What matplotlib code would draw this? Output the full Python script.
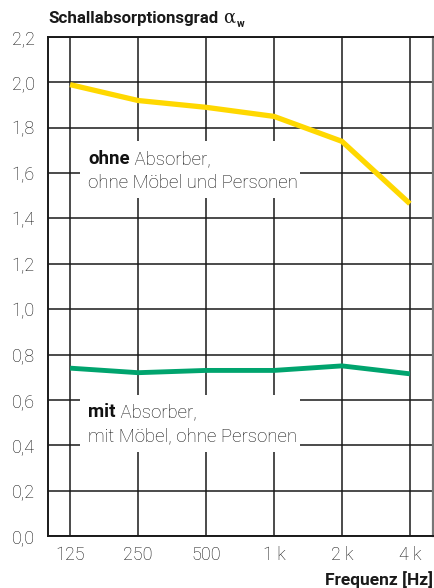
import matplotlib
matplotlib.use("Agg")
import matplotlib.pyplot as plt
from matplotlib.patches import Rectangle

plt.rcParams['font.family'] = ['Roboto', 'DejaVu Sans']

freq_labels = ["125", "250", "500", "1 k", "2 k", "4 k"]
ohne_values = [1.99, 1.92, 1.89, 1.85, 1.74, 1.465]
mit_values = [0.74, 0.72, 0.73, 0.73, 0.75, 0.715]
y_ticks = [0.0, 0.2, 0.4, 0.6, 0.8, 1.0, 1.2, 1.4, 1.6, 1.8, 2.0, 2.2]
y_labels = [f"{v:.1f}".replace(".", ",") for v in y_ticks]

W, H = 435, 588
fig = plt.figure(figsize=(W / 100, H / 100), dpi=100)
ax = fig.add_axes([48 / W, 1 - 536 / H, 385 / W, 499 / H])

x = list(range(len(freq_labels)))
grid_c = "#1a1a1a"
txt_c = "#111111"
ax.set_xlim(-0.325, len(x) - 1 + 0.34)
ax.set_ylim(0, 2.2)
ax.set_xticks(x)
ax.set_xticklabels(freq_labels)
ax.set_yticks(y_ticks)
ax.set_yticklabels(y_labels)
ax.tick_params(length=0, labelsize=13, colors=txt_c)
ax.tick_params(axis='y', pad=9.5)
ax.tick_params(axis='x', pad=7)
for lab in ax.get_xticklabels() + ax.get_yticklabels():
    lab.set_fontweight('light')
ax.grid(True, color=grid_c, linewidth=1.1, zorder=1)
ax.set_axisbelow(True)
for side, sp in ax.spines.items():
    sp.set_color(grid_c if side != 'right' else '#777777')
    sp.set_linewidth(1.4 if side != 'right' else 1.6)

# white label boxes hiding the grid
for (x0, x1, y0, y1) in [(0.0831, 0.6545, 0.677, 0.792), (0.0831, 0.6545, 0.168, 0.2826)]:
    ax.add_patch(Rectangle((x0, y0), x1 - x0, y1 - y0, transform=ax.transAxes,
                           facecolor='white', edgecolor='none', zorder=2))

ax.plot(x, ohne_values, color="#FFD800", linewidth=3.8, zorder=3, solid_capstyle='butt')
ax.plot(x, mit_values, color="#00A46E", linewidth=3.5, zorder=3, solid_capstyle='butt')

fs = 13.4
renderer = fig.canvas.get_renderer()

def right_end_fig(t):
    bb = t.get_window_extent(renderer=renderer)
    return bb.x1 / (W)

def two_part(xa, ya, bold, rest):
    t = ax.text(xa, ya, bold, transform=ax.transAxes, fontsize=fs, fontweight='bold',
                color=txt_c, va='baseline', ha='left', zorder=4)
    bb = t.get_window_extent(renderer=renderer)
    xe = ax.transAxes.inverted().transform((bb.x1, bb.y0))[0]
    ax.text(xe, ya, rest, transform=ax.transAxes, fontsize=fs, fontweight='light',
            color=txt_c, va='baseline', ha='left', zorder=4)

def axy(py):
    return (536 - py) / 499

xa = (88 - 48) / 385
two_part(xa, axy(164), "ohne", " Absorber,")
ax.text(xa, axy(188), "ohne Möbel und Personen", transform=ax.transAxes, fontsize=fs,
        fontweight='light', color=txt_c, va='baseline', ha='left', zorder=4)
two_part(xa, axy(417), "mit", " Absorber,")
ax.text(xa, axy(441), "mit Möbel, ohne Personen", transform=ax.transAxes, fontsize=fs,
        fontweight='light', color=txt_c, va='baseline', ha='left', zorder=4)

# title in pieces
tc = "#1a1a1a"
t1 = fig.text(48 / W, 1 - 23 / H, "Schallabsorptionsgrad", fontsize=12.2,
              fontweight='bold', color=tc, ha='left', va='baseline')
xe = right_end_fig(t1) + 5 / W
t2 = fig.text(xe, 1 - 23 / H, "α", fontsize=13, family='DejaVu Serif',
              color=tc, ha='left', va='baseline')
xe2 = right_end_fig(t2) + 1 / W
fig.text(xe2, 1 - 27 / H, "w", fontsize=7.5, fontweight='bold',
         color=tc, ha='left', va='baseline')

fig.text(433 / W, 1 - 585 / H, "Frequenz [Hz]", fontsize=12.5, fontweight='bold',
         color=tc, ha='right', va='baseline')

fig.savefig("out.png", dpi=100)
